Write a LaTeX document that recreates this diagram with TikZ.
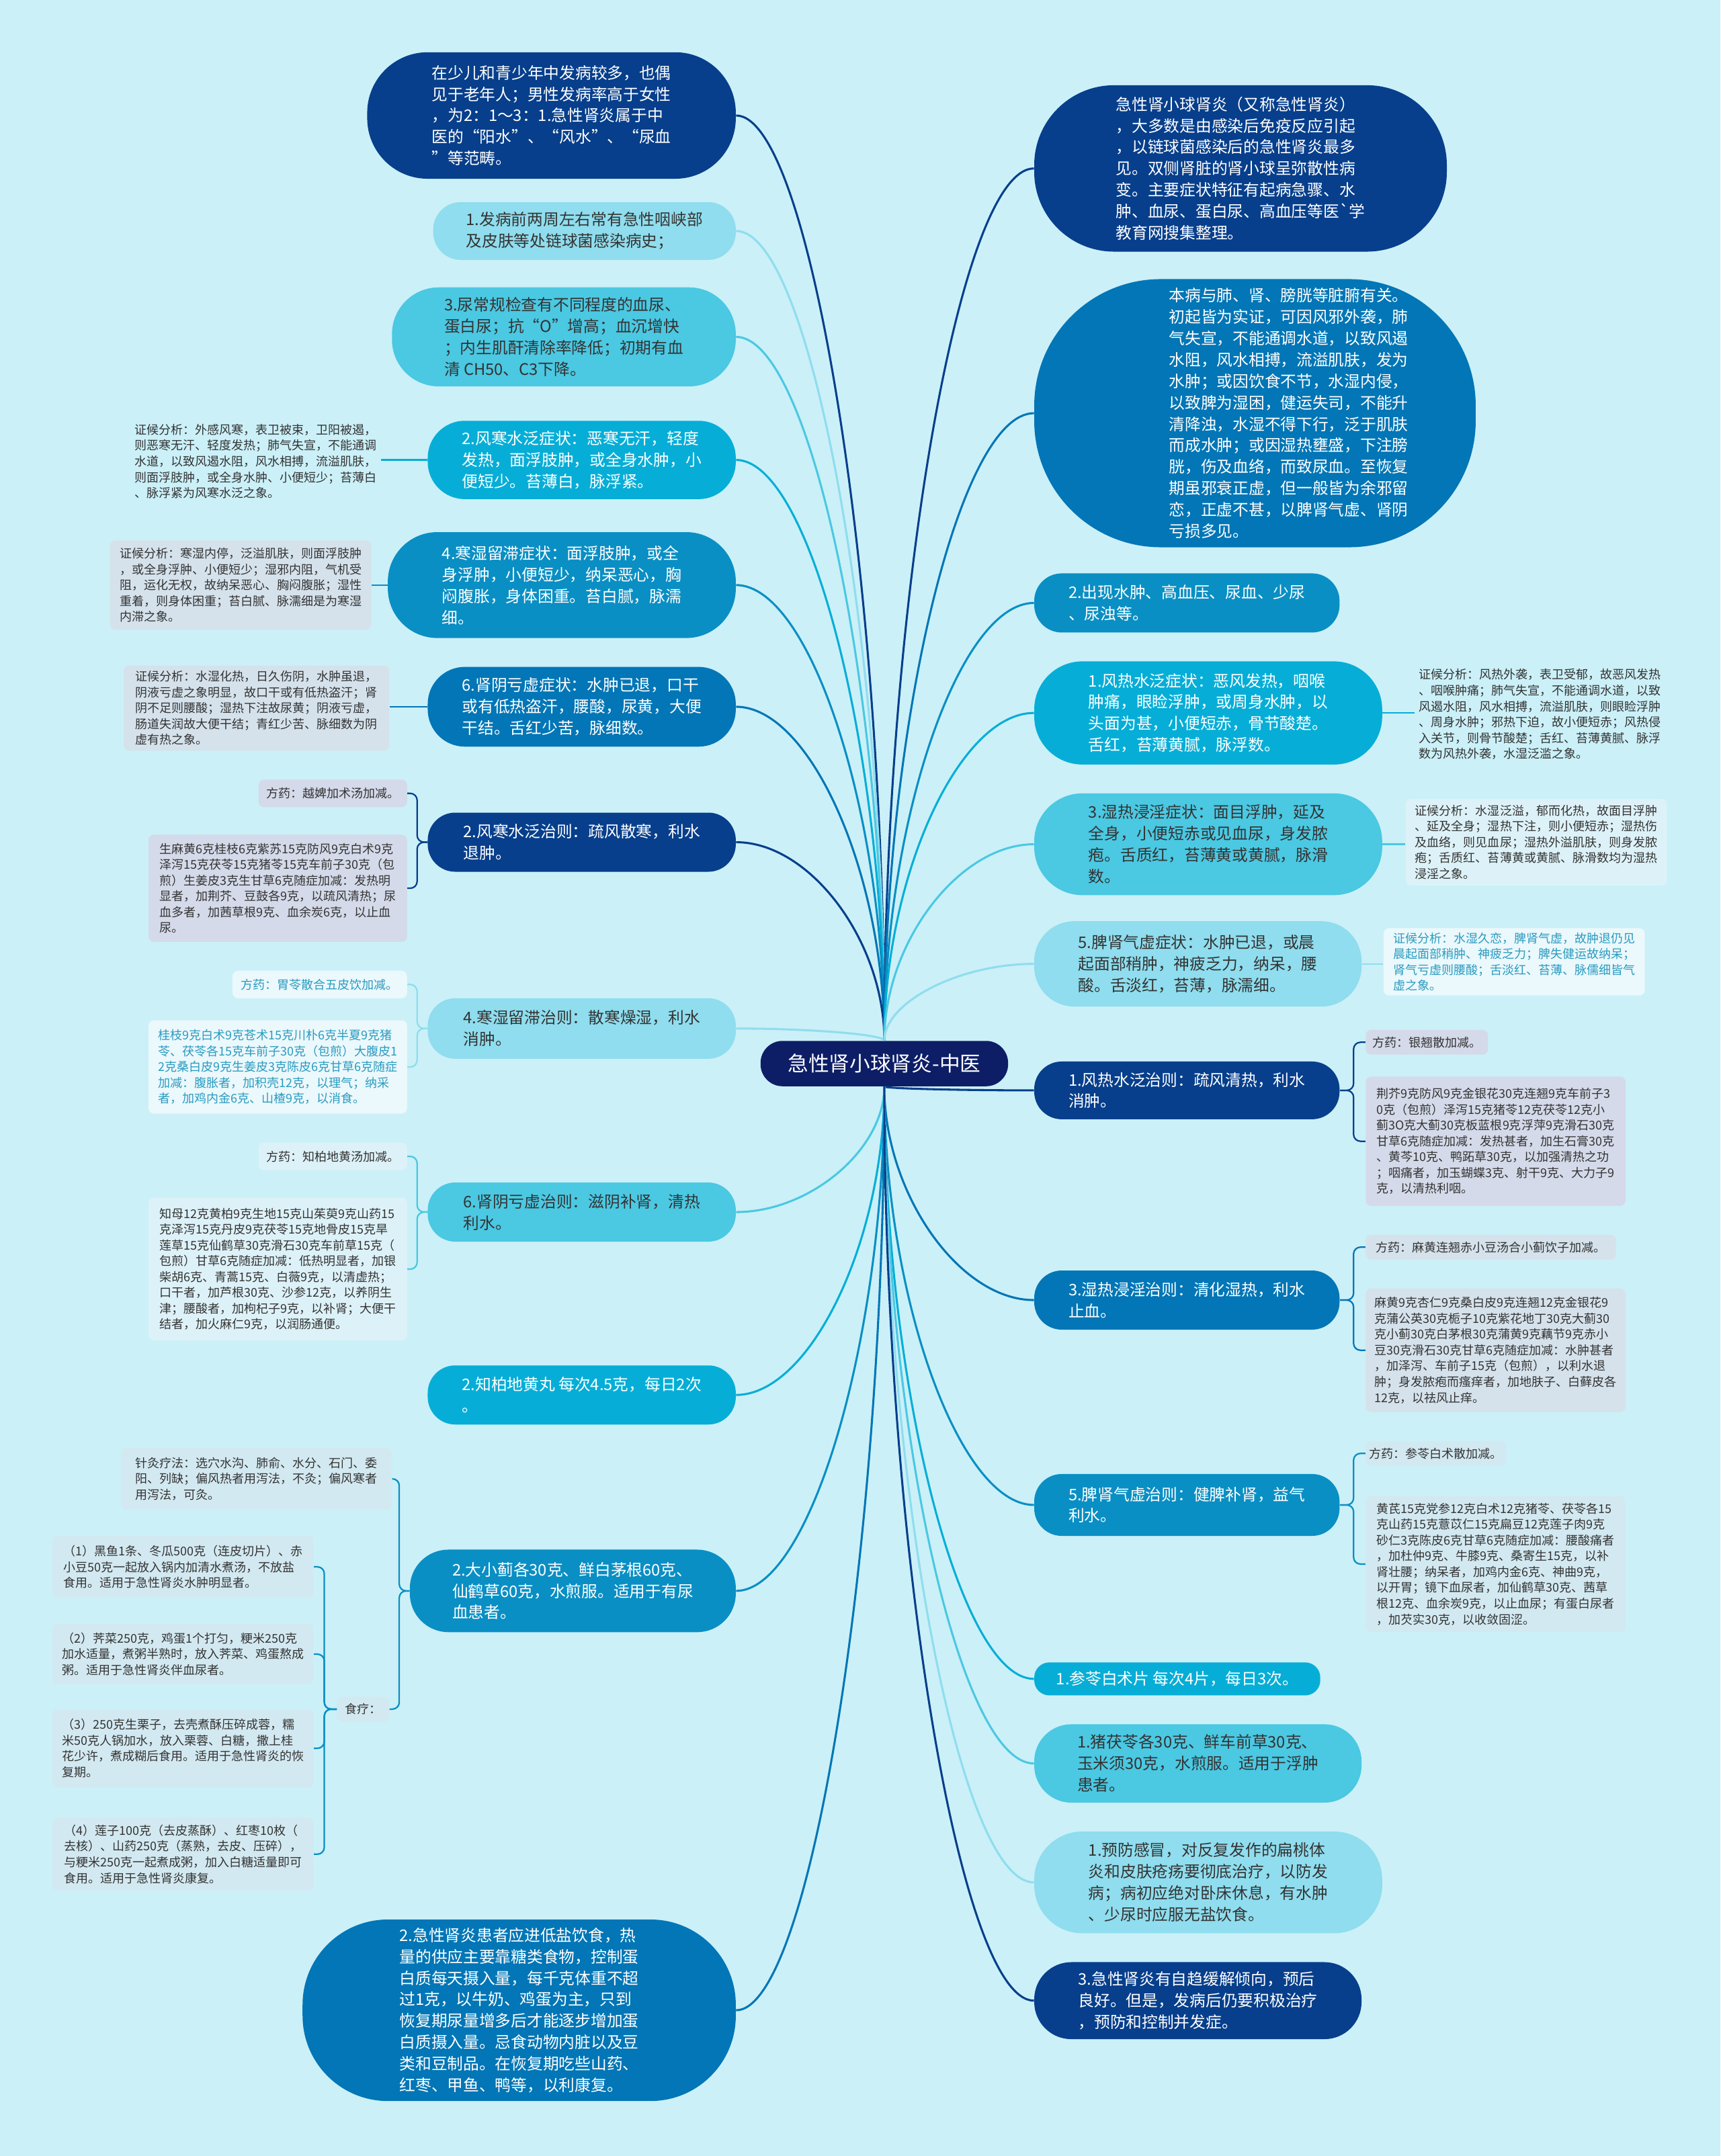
\documentclass[tikz,border=0pt]{standalone}
\usepackage{fontspec}
\setmainfont{Noto Sans CJK SC}
\usetikzlibrary{calc}
\definecolor{bgc}{HTML}{CBF0F8}
\definecolor{ctrc}{HTML}{0D1E66}
\definecolor{cA}{HTML}{073F8C}
\definecolor{cB}{HTML}{0276B6}
\definecolor{cC}{HTML}{0A8FC4}
\definecolor{cD}{HTML}{06AED7}
\definecolor{cE}{HTML}{4BC8E2}
\definecolor{cF}{HTML}{8FDDEE}
\definecolor{ink}{HTML}{333333}
\definecolor{teal}{HTML}{2A9BC0}
\definecolor{nA}{HTML}{D4DAE9}
\definecolor{nB}{HTML}{DDF2F8}
\definecolor{nC}{HTML}{EBF8FC}
\definecolor{nD}{HTML}{D3E9F1}
\definecolor{nE}{HTML}{D5E2EC}

\begin{document}
\begin{tikzpicture}[x=1pt,y=-1pt,
  topic/.style={inner sep=0pt,align=left,rounded corners=20pt,font=\fontsize{11.6}{15.6}\selectfont},
  dark/.style={topic,fill=#1,text=white},
  light/.style={topic,fill=#1,text=ink},
  note/.style={inner sep=0pt,align=left,rounded corners=4pt,text=ink,font=\fontsize{8.8}{11.5}\selectfont},
  link/.style={line width=1.5pt},
  sub/.style={line width=1.1pt,rounded corners=5pt}]

\fill[bgc] (0,0) rectangle (1251,1568);

\node[fill=ctrc,text=white,rounded corners=16pt,minimum width=180pt,minimum height=33pt,inner sep=0pt,font=\fontsize{15}{18}\selectfont] (ctr) at (643,773.5) {急性肾小球肾炎-中医};

\node[dark=cA,minimum width=268pt,minimum height=92pt,rounded corners=44pt] (l1) at (401,84) {在少儿和青少年中发病较多，也偶\\见于老年人；男性发病率高于女性\\，为2：1～3：1.急性肾炎属于中\\医的“阳水”、“风水”、“尿血\\”等范畴。};
\node[light=cF,minimum width=220pt,minimum height=42pt] (l2) at (425,168) {1.发病前两周左右常有急性咽峡部\\及皮肤等处链球菌感染病史；};
\node[light=cE,minimum width=250pt,minimum height=72pt,rounded corners=34pt] (l3) at (410,245) {3.尿常规检查有不同程度的血尿、\\蛋白尿；抗“O”增高；血沉增快\\；内生肌酐清除率降低；初期有血\\清 CH50、C3下降。};
\node[dark=cD,minimum width=224pt,minimum height=57pt,rounded corners=27pt] (l4) at (423,334.5) {2.风寒水泛症状：恶寒无汗，轻度\\发热，面浮肢肿，或全身水肿，小\\便短少。苔薄白，脉浮紧。};
\node[dark=cC,minimum width=253pt,minimum height=77pt,rounded corners=36pt] (l5) at (408.5,425.5) {4.寒湿留滞症状：面浮肢肿，或全\\身浮肿，小便短少，纳呆恶心，胸\\闷腹胀，身体困重。苔白腻，脉濡\\细。};
\node[dark=cB,minimum width=224pt,minimum height=58pt,rounded corners=27pt] (l6) at (423,514) {6.肾阴亏虚症状：水肿已退，口干\\或有低热盗汗，腰酸，尿黄，大便\\干结。舌红少苦，脉细数。};
\node[dark=cA,minimum width=224pt,minimum height=43pt] (l7) at (423,612.5) {2.风寒水泛治则：疏风散寒，利水\\退肿。};
\node[light=cF,minimum width=224pt,minimum height=44pt] (l8) at (423,748) {4.寒湿留滞治则：散寒燥湿，利水\\消肿。};
\node[light=cE,minimum width=224pt,minimum height=43pt] (l9) at (423,881.5) {6.肾阴亏虚治则：滋阴补肾，清热\\利水。};
\node[dark=cD,minimum width=224pt,minimum height=43pt] (l10) at (423,1014.5) {2.知柏地黄丸 每次4.5克，每日2次\\。};
\node[dark=cC,minimum width=237pt,minimum height=60pt,rounded corners=28pt] (l11) at (416.5,1157) {2.大小蓟各30克、鲜白茅根60克、\\仙鹤草60克，水煎服。适用于有尿\\血患者。};
\node[dark=cB,minimum width=315pt,minimum height=132pt,rounded corners=62pt] (l12) at (377.5,1462) {2.急性肾炎患者应进低盐饮食，热\\量的供应主要靠糖类食物，控制蛋\\白质每天摄入量，每千克体重不超\\过1克，以牛奶、鸡蛋为主，只到\\恢复期尿量增多后才能逐步增加蛋\\白质摄入量。忌食动物内脏以及豆\\类和豆制品。在恢复期吃些山药、\\红枣、甲鱼、鸭等，以利康复。};

\node[note,inner sep=3pt] (s1) at (186,335.5) {证候分析：外感风寒，表卫被束，卫阳被遏，\\则恶寒无汗、轻度发热；肺气失宣，不能通调\\水道，以致风遏水阻，风水相搏，流溢肌肤，\\则面浮肢肿，或全身水肿、小便短少；苔薄白\\、脉浮紧为风寒水泛之象。};
\node[note,fill=nE,minimum width=190pt,minimum height=65pt] (s2) at (175,425.5) {证候分析：寒湿内停，泛溢肌肤，则面浮肢肿\\，或全身浮肿、小便短少；湿邪内阻，气机受\\阻，运化无权，故纳呆恶心、胸闷腹胀；湿性\\重着，则身体困重；苔白腻、脉濡细是为寒湿\\内滞之象。};
\node[note,fill=nE,minimum width=193pt,minimum height=62pt] (s3) at (186.5,515) {证候分析：水湿化热，日久伤阴，水肿虽退，\\阴液亏虚之象明显，故口干或有低热盗汗；肾\\阴不足则腰酸；湿热下注故尿黄；阴液亏虚，\\肠道失润故大便干结；青红少苦、脉细数为阴\\虚有热之象。};
\node[note,fill=nA,minimum width=108pt,minimum height=20pt] (s4) at (242,577) {方药：越婢加术汤加减。};
\node[note,fill=nA,minimum width=188pt,minimum height=78pt] (s5) at (202,646) {生麻黄6克桂枝6克紫苏15克防风9克白术9克\\泽泻15克茯苓15克猪苓15克车前子30克（包\\煎）生姜皮3克生甘草6克随症加减：发热明\\显者，加荆芥、豆鼓各9克，以疏风清热；尿\\血多者，加茜草根9克、血余炭6克，以止血\\尿。};
\node[note,fill=nC,text=teal,minimum width=127pt,minimum height=20pt] (s6) at (232.5,716) {方药：胃苓散合五皮饮加减。};
\node[note,fill=nC,text=teal,minimum width=188pt,minimum height=68pt] (s7) at (202,776) {桂枝9克白术9克苍术15克川朴6克半夏9克猪\\苓、茯苓各15克车前子30克（包煎）大腹皮1\\2克桑白皮9克生姜皮3克陈皮6克甘草6克随症\\加减：腹胀者，加积壳12克，以理气；纳采\\者，加鸡内金6克、山楂9克，以消食。};
\node[note,fill=nB,minimum width=108pt,minimum height=20pt] (s8) at (242,841) {方药：知柏地黄汤加减。};
\node[note,fill=nB,minimum width=188pt,minimum height=104pt] (s9) at (202,923) {知母12克黄柏9克生地15克山茱萸9克山药15\\克泽泻15克丹皮9克茯苓15克地骨皮15克旱\\莲草15克仙鹤草30克滑石30克车前草15克（\\包煎）甘草6克随症加减：低热明显者，加银\\柴胡6克、青蒿15克、白薇9克，以清虚热；\\口干者，加芦根30克、沙参12克，以养阴生\\津；腰酸者，加枸杞子9克，以补肾；大便干\\结者，加火麻仁9克，以润肠通便。};
\node[note,fill=nD,minimum width=197pt,minimum height=45pt] (s10) at (186.5,1075.5) {针灸疗法：选穴水沟、肺俞、水分、石门、委\\阳、列缺；偏风热者用泻法，不灸；偏风寒者\\用泻法，可灸。};
\node[note,fill=nD,minimum width=38pt,minimum height=18pt] (s11) at (264,1243) {食疗：};
\node[note,fill=nD,minimum width=190pt,minimum height=45pt] (f1) at (133,1139.5) {（1）黑鱼1条、冬瓜500克（连皮切片）、赤\\小豆50克一起放入锅内加清水煮汤，不放盐\\食用。适用于急性肾炎水肿明显者。};
\node[note,fill=nD,minimum width=190pt,minimum height=44pt] (f2) at (133,1203) {（2）荠菜250克，鸡蛋1个打匀，粳米250克\\加水适量，煮粥半熟时，放入荠菜、鸡蛋熬成\\粥。适用于急性肾炎伴血尿者。};
\node[note,fill=nD,minimum width=190pt,minimum height=57pt] (f3) at (133,1271.5) {（3）250克生栗子，去壳煮酥压碎成蓉，糯\\米50克人锅加水，放入栗蓉、白糖，撒上桂\\花少许，煮成糊后食用。适用于急性肾炎的恢\\复期。};
\node[note,fill=nD,minimum width=190pt,minimum height=53pt] (f4) at (133,1348.5) {（4）莲子100克（去皮蒸酥）、红枣10枚（\\去核）、山药250克（蒸熟，去皮、压碎），\\与粳米250克一起煮成粥，加入白糖适量即可\\食用。适用于急性肾炎康复。};

\node[dark=cA,minimum width=300pt,minimum height=121pt,rounded corners=58pt] (r1) at (902,122.5) {急性肾小球肾炎（又称急性肾炎）\\，大多数是由感染后免疫反应引起\\，以链球菌感染后的急性肾炎最多\\见。双侧肾脏的肾小球呈弥散性病\\变。主要症状特征有起病急骤、水\\肿、血尿、蛋白尿、高血压等医\textasciigrave 学\\教育网搜集整理。};
\node[dark=cB,minimum width=321pt,minimum height=195pt,rounded corners=92pt] (r2) at (912.5,300.5) {};
\node[topic,text=white] (r2t) at (937,300.5) {本病与肺、肾、膀胱等脏腑有关。\\初起皆为实证，可因风邪外袭，肺\\气失宣，不能通调水道，以致风遏\\水阻，风水相搏，流溢肌肤，发为\\水肿；或因饮食不节，水湿内侵，\\以致脾为湿困，健运失司，不能升\\清降浊，水湿不得下行，泛于肌肤\\而成水肿；或因湿热壅盛，下注膀\\胱，伤及血络，而致尿血。至恢复\\期虽邪衰正虚，但一般皆为余邪留\\恋，正虚不甚，以脾肾气虚、肾阴\\亏损多见。};
\node[dark=cC,minimum width=222pt,minimum height=43pt] (r3) at (863,438.5) {2.出现水肿、高血压、尿血、少尿\\、尿浊等。};
\node[dark=cD,minimum width=253pt,minimum height=75pt,rounded corners=35pt] (r4) at (878.5,518.5) {1.风热水泛症状：恶风发热，咽喉\\肿痛，眼睑浮肿，或周身水肿，以\\头面为甚，小便短赤，骨节酸楚。\\舌红，苔薄黄腻，脉浮数。};
\node[light=cE,minimum width=253pt,minimum height=74pt,rounded corners=35pt] (r5) at (878.5,614) {3.湿热浸淫症状：面目浮肿，延及\\全身，小便短赤或见血尿，身发脓\\疱。舌质红，苔薄黄或黄腻，脉滑\\数。};
\node[light=cF,minimum width=238pt,minimum height=62pt,rounded corners=29pt] (r6) at (871,701) {5.脾肾气虚症状：水肿已退，或晨\\起面部稍肿，神疲乏力，纳呆，腰\\酸。舌淡红，苔薄，脉濡细。};
\node[dark=cA,minimum width=222pt,minimum height=42pt] (r7) at (863,793) {1.风热水泛治则：疏风清热，利水\\消肿。};
\node[dark=cB,minimum width=222pt,minimum height=43pt] (r8) at (863,945.5) {3.湿热浸淫治则：清化湿热，利水\\止血。};
\node[dark=cC,minimum width=222pt,minimum height=45pt] (r9) at (863,1094.5) {5.脾肾气虚治则：健脾补肾，益气\\利水。};
\node[dark=cD,minimum width=208pt,minimum height=24pt,rounded corners=11pt] (r10) at (856,1221) {1.参苓白术片 每次4片，每日3次。};
\node[light=cE,minimum width=238pt,minimum height=57pt,rounded corners=27pt] (r11) at (871,1282.5) {1.猪茯苓各30克、鲜车前草30克、\\玉米须30克，水煎服。适用于浮肿\\患者。};
\node[light=cF,minimum width=253pt,minimum height=74pt,rounded corners=35pt] (r12) at (878.5,1369) {1.预防感冒，对反复发作的扁桃体\\炎和皮肤疮疡要彻底治疗，以防发\\病；病初应绝对卧床休息，有水肿\\、少尿时应服无盐饮食。};
\node[dark=cA,minimum width=238pt,minimum height=56pt,rounded corners=27pt] (r13) at (871,1455) {3.急性肾炎有自趋缓解倾向，预后\\良好。但是，发病后仍要积极治疗\\，预防和控制并发症。};

\node[note,inner sep=3pt] (t1) at (1119.5,519.5) {证候分析：风热外袭，表卫受郁，故恶风发热\\、咽喉肿痛；肺气失宣，不能通调水道，以致\\风遏水阻，风水相搏，流溢肌肤，则眼睑浮肿\\、周身水肿；邪热下迫，故小便短赤；风热侵\\入关节，则骨节酸楚；舌红、苔薄黄腻、脉浮\\数为风热外袭，水湿泛滥之象。};
\node[note,fill=nB,minimum width=190pt,minimum height=63pt] (t2) at (1117,612.5) {证候分析：水湿泛溢，郁而化热，故面目浮肿\\、延及全身；湿热下注，则小便短赤；湿热伤\\及血络，则见血尿；湿热外溢肌肤，则身发脓\\疱；舌质红、苔薄黄或黄腻、脉滑数均为湿热\\浸淫之象。};
\node[note,fill=nC,text=teal,minimum width=190pt,minimum height=49pt] (t3) at (1101,699.5) {证候分析：水湿久恋，脾肾气虚，故肿退仍见\\晨起面部稍肿、神疲乏力；脾失健运故纳呆；\\肾气亏虚则腰酸；舌淡红、苔薄、脉儒细皆气\\虚之象。};
\node[note,fill=nA,minimum width=89pt,minimum height=18pt] (t4) at (1037.5,758) {方药：银翘散加减。};
\node[note,fill=nA,minimum width=189pt,minimum height=94pt] (t5) at (1087.5,830) {荆芥9克防风9克金银花30克连翘9克车前子3\\0克（包煎）泽泻15克猪苓12克茯苓12克小\\蓟3O克大蓟30克板蓝根9克浮萍9克滑石30克\\甘草6克随症加减：发热甚者，加生石膏30克\\、黄芩10克、鸭跖草30克，以加强清热之功\\；咽痛者，加玉蝴蝶3克、射干9克、大力子9\\克，以清热利咽。};
\node[note,fill=nE,minimum width=182pt,minimum height=18pt] (t6) at (1084,907) {方药：麻黄连翘赤小豆汤合小蓟饮子加减。};
\node[note,fill=nE,minimum width=189pt,minimum height=90pt] (t7) at (1087.5,982) {麻黄9克杏仁9克桑白皮9克连翘12克金银花9\\克蒲公英30克栀子10克紫花地丁30克大蓟30\\克小蓟30克白茅根30克蒲黄9克藕节9克赤小\\豆30克滑石30克甘草6克随症加减：水肿甚者\\，加泽泻、车前子15克（包煎），以利水退\\肿；身发脓疱而瘙痒者，加地肤子、白藓皮各\\12克，以祛风止痒。};
\node[note,fill=nD,minimum width=102pt,minimum height=18pt] (t8) at (1044,1057) {方药：参苓白术散加减。};
\node[note,fill=nD,minimum width=189pt,minimum height=99pt] (t9) at (1087.5,1137.5) {黄芪15克党参12克白术12克猪苓、茯苓各15\\克山药15克薏苡仁15克扁豆12克莲子肉9克\\砂仁3克陈皮6克甘草6克随症加减：腰酸痛者\\，加杜仲9克、牛膝9克、桑寄生15克，以补\\肾壮腰；纳呆者，加鸡内金6克、神曲9克，\\以开胃；镜下血尿者，加仙鹤草30克、茜草\\根12克、血余炭9克，以止血尿；有蛋白尿者\\，加芡实30克，以收敛固涩。};

\foreach \n/\c in {l1/cA,l2/cF,l3/cE,l4/cD,l5/cC,l6/cB,l7/cA,l8/cF}
  \draw[link,draw=\c] (ctr.north) .. controls ($(ctr.north)!.5!(ctr.north |- \n.east)$) and ($(\n.east)!.5!(ctr.north |- \n.east)$) .. (\n.east);
\foreach \n/\c in {l9/cE,l10/cD,l11/cC,l12/cB}
  \draw[link,draw=\c] (ctr.south) .. controls ($(ctr.south)!.5!(ctr.south |- \n.east)$) and ($(\n.east)!.5!(ctr.south |- \n.east)$) .. (\n.east);
\foreach \n/\c in {r1/cA,r2/cB,r3/cC,r4/cD,r5/cE,r6/cF}
  \draw[link,draw=\c] (ctr.north) .. controls ($(ctr.north)!.5!(ctr.north |- \n.west)$) and ($(\n.west)!.5!(ctr.north |- \n.west)$) .. (\n.west);
\foreach \n/\c in {r7/cA,r8/cB,r9/cC,r10/cD,r11/cE,r12/cF,r13/cA}
  \draw[link,draw=\c] (ctr.south) .. controls ($(ctr.south)!.5!(ctr.south |- \n.west)$) and ($(\n.west)!.5!(ctr.south |- \n.west)$) .. (\n.west);

\draw[sub,draw=cD] (l4.west) -- (l4.west -| s1.east);
\draw[sub,draw=cC] (l5.west) -- (l5.west -| s2.east);
\draw[sub,draw=cB] (l6.west) -- (l6.west -| s3.east);
\foreach \p/\s/\c in {l7/s4/cA,l7/s5/cA,l8/s6/cF,l8/s7/cF,l9/s8/cE,l9/s9/cE,l11/s10/cC,l11/s11/cC}
  \draw[sub,draw=\c] (\p.west) -- ++(-7.5,0) |- (\s.east);
\foreach \s in {f1,f2,f3,f4}
  \draw[sub,draw=cC] (s11.west) -- ++(-9,0) |- (\s.east);

\draw[sub,draw=cD] (r4.east) -- (r4.east -| t1.west);
\draw[sub,draw=cE] (r5.east) -- (r5.east -| t2.west);
\draw[sub,draw=cF] (r6.east) -- (r6.east -| t3.west);
\foreach \p/\s/\c in {r7/t4/cA,r7/t5/cA,r8/t6/cB,r8/t7/cB,r9/t8/cC,r9/t9/cC}
  \draw[sub,draw=\c] (\p.east) -- ++(10,0) |- (\s.west);
\end{tikzpicture}
\end{document}
